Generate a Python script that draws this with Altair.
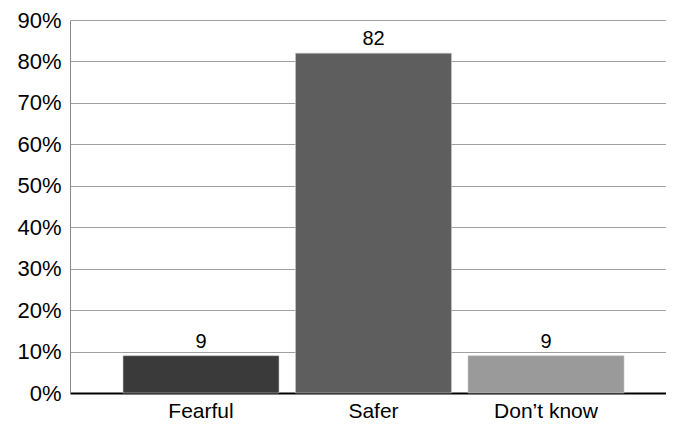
import altair as alt
import pandas as pd

categories = ["Fearful", "Safer", "Don\u2019t know"]
values = [9, 82, 9]
colors = ["#3a3a3a", "#5e5e5e", "#9a9a9a"]

df = pd.DataFrame({"cat": categories, "val": values})

x = alt.X("cat:N", sort=categories, title=None,
          scale=alt.Scale(paddingInner=0.0957, paddingOuter=0.2754, align=0.558),
          axis=alt.Axis(labelAngle=0, labelFontSize=21, labelFont="Liberation Sans",
                        labelColor="#000", ticks=False, domainColor="#000",
                        domainWidth=2, labelPadding=7))
y = alt.Y("val:Q", title=None,
          scale=alt.Scale(domain=[0, 90], nice=False),
          axis=alt.Axis(values=list(range(0, 100, 10)), labelExpr="datum.value + '%'",
                        labelFontSize=22, labelFont="Liberation Sans", labelColor="#000",
                        ticks=False, domainColor="#888", gridColor="#a0a0a0",
                        labelPadding=9))

bars = alt.Chart(df).mark_bar(stroke="#c8c8c8", strokeWidth=0.6).encode(
    x=x, y=y,
    color=alt.Color("cat:N", scale=alt.Scale(domain=categories, range=colors), legend=None),
)
text = alt.Chart(df).mark_text(baseline="bottom", dy=-4, fontSize=20,
                               font="Liberation Sans", color="#000").encode(
    x=alt.X("cat:N", sort=categories), y="val:Q", text="val:Q")

chart = (bars + text).properties(
    width=596, height=373,
    autosize=alt.AutoSizeParams(type="none"),
    padding={"left": 62, "top": 12, "right": 0, "bottom": 30},
).configure_view(stroke=None)

chart.save("out.html", embed_options={"renderer": "svg", "actions": False})
